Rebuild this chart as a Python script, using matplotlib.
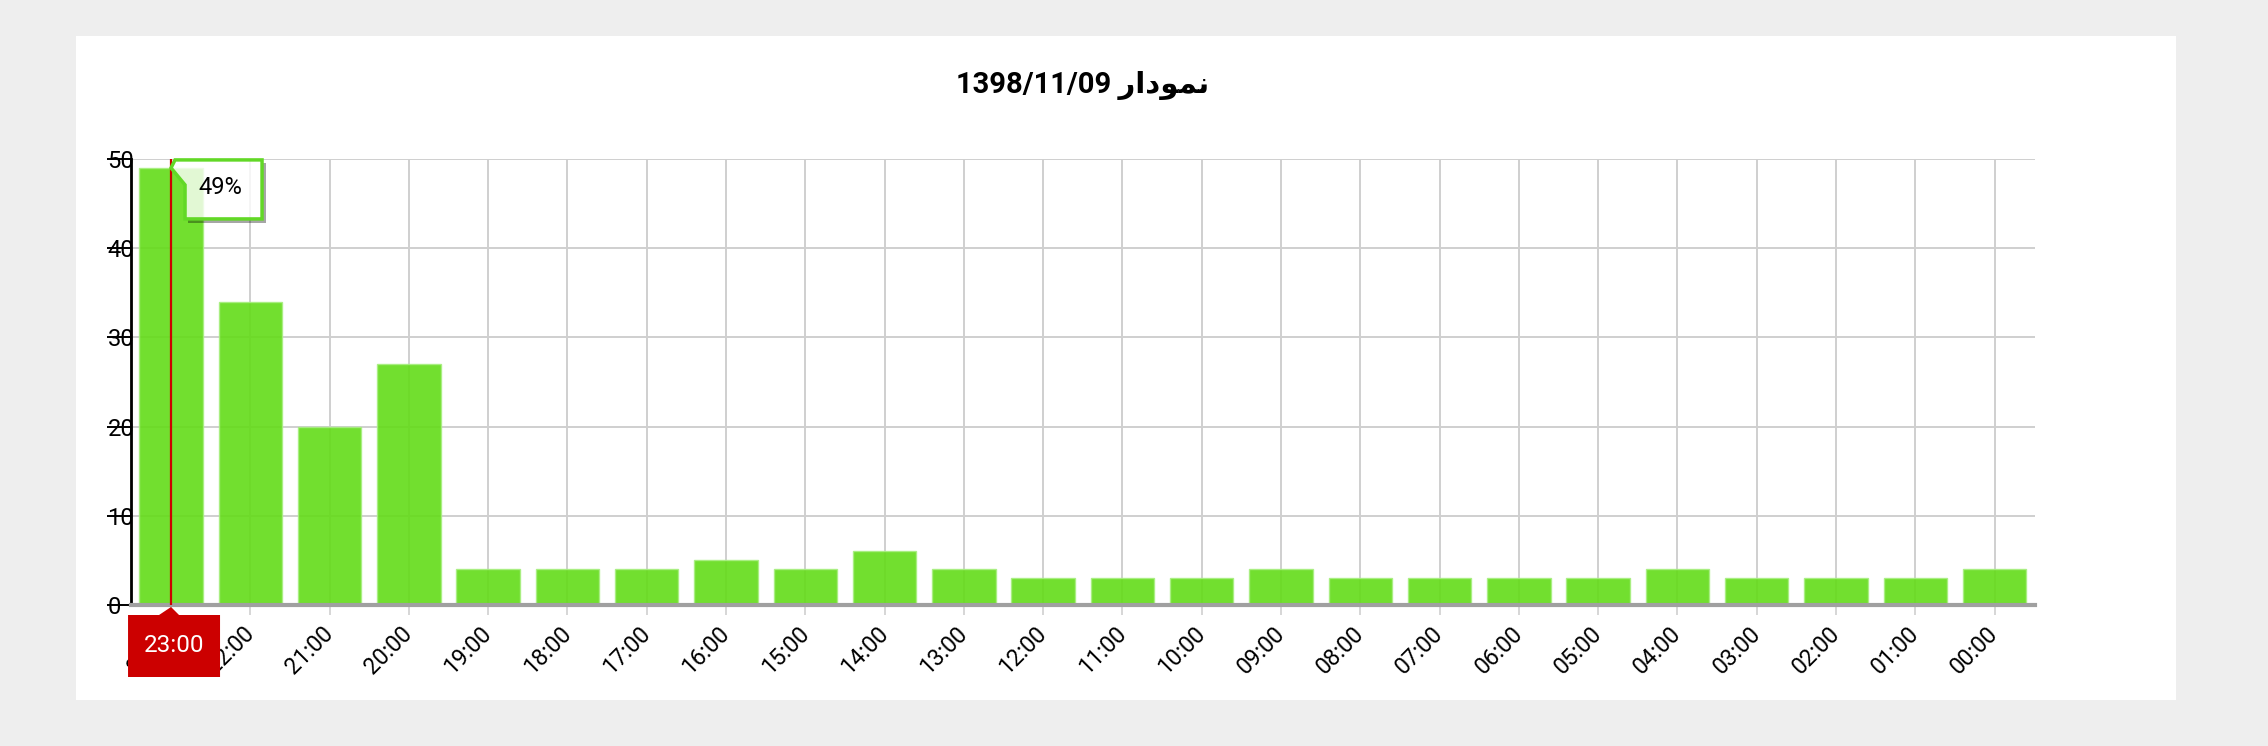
import matplotlib
matplotlib.use("Agg")
import matplotlib.pyplot as plt
from matplotlib.patches import Polygon, Rectangle
from matplotlib.transforms import IdentityTransform

# ---- data ----
hours = ["23:00", "22:00", "21:00", "20:00", "19:00", "18:00", "17:00", "16:00",
         "15:00", "14:00", "13:00", "12:00", "11:00", "10:00", "09:00", "08:00",
         "07:00", "06:00", "05:00", "04:00", "03:00", "02:00", "01:00", "00:00"]
values = [49, 34, 20, 27, 4, 4, 4, 5, 4, 6, 4, 3, 3, 3, 4, 3, 3, 3, 3, 4, 3, 3, 3, 4]
y_ticks = [0, 10, 20, 30, 40, 50]
title_date = "1398/11/09"
title_word = "\uFEAD\uFE8D\uFEA9\uFEEE\uFEE4\uFEE7"  # نمودار (shaped, visual order)
highlight = 0
tooltip_text = "49%"

FONT = ["Roboto", "DejaVu Sans"]
plt.rcParams["font.family"] = FONT

W, H, DPI = 2268, 746, 100
fig = plt.figure(figsize=(W / DPI, H / DPI), dpi=DPI, facecolor="#eeeeee")

# white panel
fig.patches.append(Rectangle((76 / W, 1 - 700 / H), 2100 / W, 664 / H,
                             transform=fig.transFigure, facecolor="white",
                             edgecolor="none", zorder=-5))

ax = fig.add_axes([131 / W, 1 - 605 / H, (2035 - 131) / W, (605 - 159) / H])
ax.set_facecolor("none")
ax.set_zorder(1)

x = list(range(len(hours)))
ax.bar(x, values, width=0.8, color="#63dc18", alpha=0.9,
       edgecolor="#a8ee80", linewidth=1, zorder=2)

ax.set_xlim(-0.505, len(hours) - 0.49)
ax.set_ylim(0, 50)
ax.set_yticks(y_ticks)
ax.set_xticks(x)
ax.set_xticklabels(hours, rotation=45, ha="right", va="center",
                   rotation_mode="anchor", fontsize=16.5)
ax.grid(True, color="#cfcfcf", linewidth=1.4, zorder=1)
ax.set_axisbelow(True)

for s in ("top", "right"):
    ax.spines[s].set_visible(False)
ax.spines["left"].set_color("black")
ax.spines["left"].set_linewidth(2)
ax.spines["bottom"].set_color("#a0a0a0")
ax.spines["bottom"].set_linewidth(3)

ax.tick_params(axis="y", direction="out", length=17, width=1.4, color="black",
               pad=0, labelsize=17)
for lbl in ax.get_yticklabels():
    lbl.set_horizontalalignment("left")
    lbl.set_verticalalignment("center_baseline")
ax.tick_params(axis="x", direction="out", length=7, width=1.4, color="#d6d6d6",
               pad=11)

# title
fig.text(1083 / W, 1 - 85 / H, title_date + " " + title_word, ha="center",
         va="center", fontsize=21, fontweight="bold", family=FONT)

# crosshair at highlighted bar
ax.axvline(highlight, color="#cc0000", linewidth=1.6, zorder=5)

fig.canvas.draw()
tx, ty = ax.transData.transform((highlight, values[highlight]))
bx, by = ax.transData.transform((highlight, 0))


def pts(offsets, ox, oy):
    return [(ox + dx, oy - dy) for dx, dy in offsets]


# tooltip shadow (only the visible outer strips)
for shp in ([(91, -5), (95, -5), (95, 55), (91, 55)],
            [(17, 51), (91, 51), (91, 55), (17, 55)]):
    fig.patches.append(Polygon(pts(shp, tx, ty), closed=True,
                               transform=IdentityTransform(), facecolor="black",
                               alpha=0.35, edgecolor="none", zorder=8))
tip_shape = [(0, 0), (4, -8), (91, -8), (91, 51), (14, 51), (14, 17)]
tip = Polygon(pts(tip_shape, tx, ty), closed=True, transform=IdentityTransform(),
              facecolor=(1, 1, 1, 0.8), edgecolor="#62d826", linewidth=2.5,
              zorder=9, clip_on=False)
fig.patches.append(tip)
fig.text(tx + 49, ty - 20, tooltip_text, transform=IdentityTransform(),
         ha="center", va="center", fontsize=17, color="black", zorder=10)

# red x label
lab_shape = [(-43, 10), (-12, 10), (0, 2), (8, 10), (49, 10), (49, 72), (-43, 72)]
lab = Polygon(pts(lab_shape, bx, by), closed=True, transform=IdentityTransform(),
              facecolor="#cc0000", edgecolor="none", zorder=9, clip_on=False)
fig.patches.append(lab)
fig.text(bx + 3, by - 41, hours[highlight], transform=IdentityTransform(),
         ha="center", va="center", fontsize=17.5, color="white", zorder=10)

fig.savefig("out.png", dpi=DPI, facecolor=fig.get_facecolor())
